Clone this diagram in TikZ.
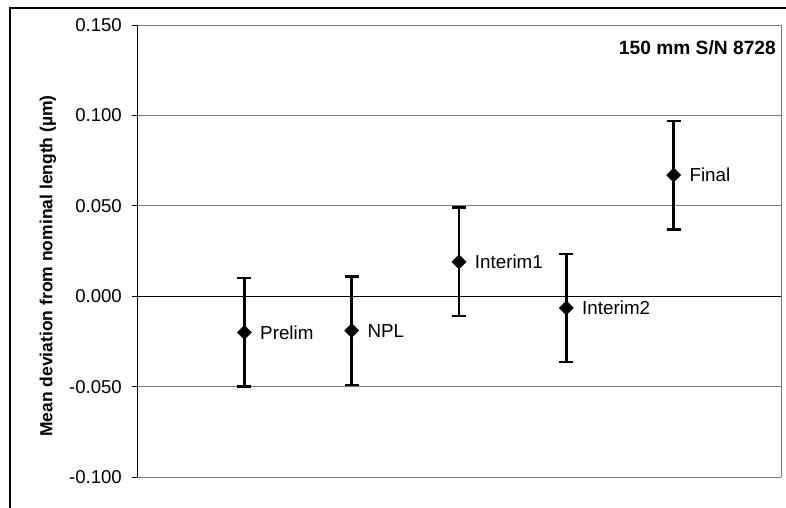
\documentclass[tikz,border=0pt]{standalone}
\usepackage{fontspec}
\setmainfont{Liberation Sans}
\usetikzlibrary{shapes.geometric}
\tikzset{
  grid/.style={draw=gray!95!black, line width=1pt},
  axisline/.style={draw=black, line width=1pt},
  ebar/.style={draw=black, line width=2.4pt},
  pt/.style={diamond, fill=black, inner sep=0pt, minimum width=15pt, minimum height=15pt},
  ticklab/.style={anchor=east, inner sep=0pt, font=\fontsize{18.6}{20}\selectfont},
  ptlab/.style={anchor=west, inner sep=0pt, font=\fontsize{18.8}{20}\selectfont},
}
\begin{document}
\begin{tikzpicture}[x=1pt,y=1pt]
\useasboundingbox (0,0) rectangle (786,-507);
\clip (0,0) rectangle (786,-507);
% outer frame
\draw[line width=1.5pt] (10,-520) -- (10,-8) -- (800,-8);
% plot area gridlines
\foreach \yy in {25,115.4,205.8,386.6,477}{
  \draw[grid] (137,-\yy) -- (781,-\yy);
}
\draw[grid] (781,-25) -- (781,-477);
\draw[axisline] (137,-296.2) -- (781,-296.2);
\draw[axisline] (137,-25) -- (137,-477);
% ticks and labels
\foreach \yy/\lab in {25/0.150,115.4/0.100,205.8/0.050,296.2/0.000,386.6/-0.050,477/-0.100}{
  \draw[axisline] (132,-\yy) -- (137,-\yy);
  \node[ticklab] at (122,-\yy) {\lab};
}
% axis title
\node[rotate=90, font=\bfseries\fontsize{17.5}{20}\selectfont] (ytitle) at (48,-266) {Mean deviation from nominal length (µm)};
% chart label
\node[anchor=east, inner sep=0pt, font=\bfseries\fontsize{19.2}{21}\selectfont] (title) at (776,-48) {150 mm S/N 8728};
% data
\begin{scope}[shift={(137,-296.2)}, x=107.33pt, y=1808pt]
\foreach \k/\v/\name in {1/-0.020/Prelim,2/-0.019/NPL,3/0.019/Interim1,4/-0.0065/Interim2,5/0.067/Final}{
  \coordinate (top\k) at (\k,\v+0.030);
  \coordinate (bot\k) at (\k,\v-0.030);
  \draw[ebar] (bot\k) -- (top\k);
  \draw[ebar] ([xshift=-7pt]top\k) -- ([xshift=7pt]top\k);
  \draw[ebar] ([xshift=-7pt]bot\k) -- ([xshift=7pt]bot\k);
  \node[pt] (p\k) at (\k,\v) {};
  \node[ptlab] (l\k) at ([xshift=8pt]p\k.east) {\name};
}
\end{scope}
\end{tikzpicture}
\end{document}
